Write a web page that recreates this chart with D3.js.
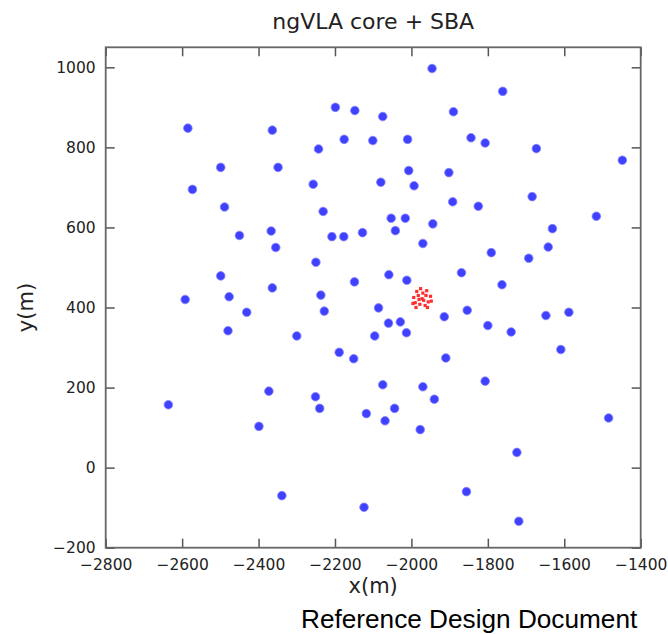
<!DOCTYPE html>
<html>
<head>
<meta charset="utf-8">
<title>ngVLA core + SBA</title>
<script src="https://d3js.org/d3.v7.min.js"></script>
<style>
	body { margin: 0; background: #fff; }
	svg text { font-family: "DejaVu Sans", sans-serif; fill: #222; }
</style>
</head>
<body>
<svg id="chart" width="668" height="634"></svg>
<script>
	// core antennas (blue)
	var coreX = [-2585, -2364, -2199, -2148, -2075, -2176, -2101, -2243, -2499, -2349,
		-2573, -2257, -2080, -2489, -2231, -2053, -2450, -2367, -2355, -2208,
		-2177, -2128, -2250, -2499, -2364, -2149, -2059, -2592, -2477, -2237,
		-1946, -1761, -1890, -2010, -1844, -1807, -1673, -1448, -2007, -1902,
		-1993, -1892, -1825, -1684, -2016, -1944, -2042, -1516, -1631, -1970,
		-1791, -1693, -1642, -2012, -1869, -1763, -2086, -2431, -2228, -2060,
		-2480, -2300, -2096, -2189, -2151, -2075, -2373, -2251, -2240, -2636,
		-2399, -2118, -2069, -2339, -2124, -1914, -1854, -1648, -1588, -2029,
		-2013, -1800, -1739, -1609, -1910, -1970, -1940, -1807, -2044, -1977,
		-1484, -1724, -1856, -1719]
	var coreY = [848, 843, 900, 892, 877, 820, 817, 796, 750, 750,
		695, 708, 713, 651, 640, 623, 580, 591, 550, 577,
		577, 587, 513, 479, 449, 464, 482, 420, 427, 431,
		997, 940, 889, 820, 824, 811, 797, 768, 742, 737,
		704, 664, 653, 677, 623, 609, 592, 628, 597, 560,
		537, 523, 551, 468, 487, 457, 399, 388, 391, 361,
		342, 329, 329, 288, 272, 207, 191, 177, 148, 157,
		103, 135, 117, -70, -99, 377, 393, 380, 388, 364,
		337, 355, 339, 295, 274, 202, 171, 216, 148, 95,
		124, 38, -60, -134]

	// short baseline array (red)
	var sbaX = [-1972, -1986, -1960, -1994, -1950, -1978, -1964, -1990, -1956, -1970,
		-1982, -1962, -1996, -1948, -1976, -1988, -1958, -1968, -1980]
	var sbaY = [422, 440, 442, 425, 428, 408, 405, 412, 414, 436,
		430, 430, 410, 416, 447, 400, 400, 418, 420]

	var xTicks = [-2800, -2600, -2400, -2200, -2000, -1800, -1600, -1400]
	var yTicks = [-200, 0, 200, 400, 600, 800, 1000]

	var svg = d3.select("#chart"),
		margin = {top: 47.3, right: 27.3, bottom: 86.3, left: 105.7},
		width = +svg.attr("width") - margin.left - margin.right,
		height = +svg.attr("height") - margin.top - margin.bottom;

	var x = d3.scaleLinear().domain([-2800, -1400]).range([0, width])
	var y = d3.scaleLinear().domain([-200, 1050]).range([height, 0])
	var fmt = d3.format("d")

	var g = svg.append("g").attr("transform", "translate(" + margin.left + "," + margin.top + ")")

	// points
	g.append("g").selectAll("circle")
		.data(d3.range(coreX.length))
		.enter().append("circle")
		.attr("cx", function(i) { return x(coreX[i]) })
		.attr("cy", function(i) { return y(coreY[i]) })
		.attr("r", 4.3)
		.attr("fill", "#4040ff")
		.attr("stroke", "#8585ff")
		.attr("stroke-width", 0.8)

	g.append("g").selectAll("rect")
		.data(d3.range(sbaX.length))
		.enter().append("rect")
		.attr("x", function(i) { return x(sbaX[i]) - 1.6 })
		.attr("y", function(i) { return y(sbaY[i]) - 1.6 })
		.attr("width", 3.2)
		.attr("height", 3.2)
		.attr("fill", "#ff2d2d")

	// axes, ticks pointing inward on all four sides
	function styleAxis(sel) {
		sel.select(".domain").remove()
		sel.selectAll(".tick line").attr("stroke", "#555").attr("stroke-width", 1.5)
		sel.selectAll(".tick text").attr("font-size", "15.5px").attr("fill", "#222")
			.attr("font-family", "DejaVu Sans, sans-serif")
	}

	g.append("g")
		.attr("transform", "translate(0," + height + ")")
		.call(d3.axisBottom(x).tickValues(xTicks).tickFormat(fmt).tickSizeInner(-9).tickSizeOuter(0).tickPadding(11))
		.call(styleAxis)
	g.append("g")
		.call(d3.axisTop(x).tickValues(xTicks).tickSizeInner(-9).tickSizeOuter(0).tickFormat(""))
		.call(styleAxis)
	g.append("g")
		.call(d3.axisLeft(y).tickValues(yTicks).tickFormat(fmt).tickSizeInner(-9).tickSizeOuter(0).tickPadding(10))
		.call(styleAxis)
	g.append("g")
		.attr("transform", "translate(" + width + ",0)")
		.call(d3.axisRight(y).tickValues(yTicks).tickSizeInner(-9).tickSizeOuter(0).tickFormat(""))
		.call(styleAxis)

	g.append("rect")
		.attr("width", width)
		.attr("height", height)
		.attr("fill", "none")
		.attr("stroke", "#666")
		.attr("stroke-width", 1.8)

	// titles
	svg.append("text")
		.attr("x", margin.left + width / 2)
		.attr("y", 29)
		.attr("text-anchor", "middle")
		.attr("font-size", "22px")
		.text("ngVLA core + SBA")

	svg.append("text")
		.attr("x", margin.left + width / 2)
		.attr("y", 593)
		.attr("text-anchor", "middle")
		.attr("font-size", "21px")
		.text("x(m)")

	svg.append("text")
		.attr("transform", "translate(33," + (margin.top + y(400)) + ") rotate(-90)")
		.attr("text-anchor", "middle")
		.attr("font-size", "21px")
		.text("y(m)")

	svg.append("text")
		.attr("x", 301)
		.attr("y", 628)
		.attr("font-size", "26.2px")
		.style("font-family", "'Liberation Sans', Arial, sans-serif")
		.style("fill", "#000")
		.text("Reference Design Document")
</script>
</body>
</html>
